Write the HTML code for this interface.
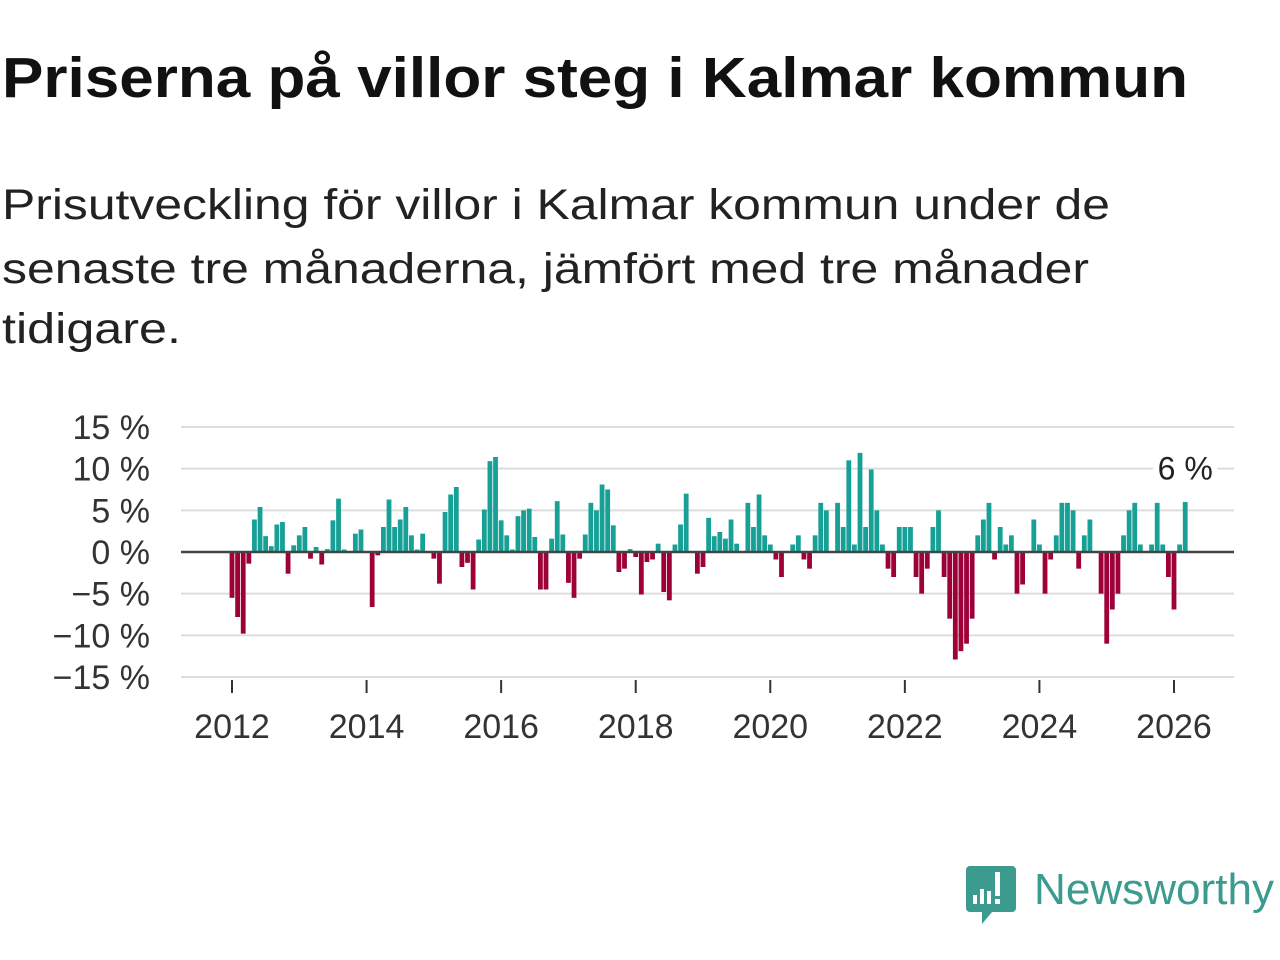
<!DOCTYPE html>
<html><head><meta charset="utf-8"><style>
html,body{margin:0;padding:0;background:#fff;width:1280px;height:960px;overflow:hidden}
svg text{font-family:"Liberation Sans",sans-serif}
</style></head><body>
<svg id="chart" width="1280" height="960" xmlns="http://www.w3.org/2000/svg">
<text x="2" y="97" font-size="57" font-weight="bold" fill="#111" textLength="1186" lengthAdjust="spacingAndGlyphs">Priserna på villor steg i Kalmar kommun</text>
<g font-size="43" fill="#222">
<text x="2" y="219" textLength="1108" lengthAdjust="spacingAndGlyphs">Prisutveckling för villor i Kalmar kommun under de</text>
<text x="2" y="283" textLength="1087" lengthAdjust="spacingAndGlyphs">senaste tre månaderna, jämfört med tre månader</text>
<text x="2" y="343" textLength="179" lengthAdjust="spacingAndGlyphs">tidigare.</text>
</g>
<g id="grid"></g>
<g id="bars"></g>
<g id="axes"></g>
<g>
<path d="M970 866 h42 a4 4 0 0 1 4 4 v38 a4 4 0 0 1 -4 4 h-20 l-10 12 v-12 h-12 a4 4 0 0 1 -4 -4 v-38 a4 4 0 0 1 4 -4z" fill="#3a9b8e"/>
<rect x="973" y="895" width="4" height="9" fill="#fff"/><rect x="980" y="889" width="4" height="15" fill="#fff"/><rect x="987" y="891" width="4" height="13" fill="#fff"/><rect x="995" y="872" width="5" height="24" fill="#fff"/><rect x="995" y="899" width="5" height="5" fill="#fff"/>
<text x="1034" y="904" font-size="44" fill="#3a9b8e" textLength="240" lengthAdjust="spacingAndGlyphs">Newsworthy</text>
</g>
</svg>
<script>
const years = [2012,2014,2016,2018,2020,2022,2024,2026];
const yTicks = [15,10,5,0,-5,-10,-15];
const yTickLabels = ["15 %","10 %","5 %","0 %","−5 %","−10 %","−15 %"];
const values = [-5.5,-7.8,-9.8,-1.4,3.9,5.4,1.9,0.7,3.3,3.6,-2.6,0.8,
2.0,3.0,-0.8,0.6,-1.5,0.35,3.8,6.4,0.3,0,2.2,2.7,
0,-6.6,-0.4,3.0,6.3,3.0,3.9,5.4,2.0,0.3,2.2,0,
-0.8,-3.8,4.8,6.9,7.8,-1.8,-1.3,-4.5,1.5,5.1,10.9,11.4,
3.8,2.0,0.3,4.3,5.0,5.2,1.8,-4.5,-4.5,1.6,6.1,2.1,
-3.7,-5.5,-0.8,2.1,5.9,5.0,8.1,7.5,3.2,-2.4,-2.0,0.35,
-0.6,-5.1,-1.2,-0.9,1.0,-4.8,-5.8,0.9,3.3,7.0,0,-2.6,
-1.8,4.1,1.9,2.4,1.6,3.9,1.0,0,5.9,3.0,6.9,2.0,
0.9,-0.9,-3.0,0,0.9,2.0,-0.9,-2.0,2.0,5.9,5.0,0,
5.9,3.0,11.0,0.9,11.9,3.0,9.9,5.0,0.9,-2.0,-3.0,3.0,
3.0,3.0,-3.0,-5.0,-2.0,3.0,5.0,-3.0,-8.0,-12.9,-11.9,-11.0,
-8.0,2.0,3.9,5.9,-0.9,3.0,0.9,2.0,-5.0,-3.9,0,3.9,
0.9,-5.0,-0.9,2.0,5.9,5.9,5.0,-2.0,2.0,3.9,0,-5.0,
-11.0,-6.9,-5.0,2.0,5.0,5.9,0.9,0,0.9,5.9,0.9,-3.0,
-6.9,0.9,6.0];
const lastLabel = "6 %";
const NS="http://www.w3.org/2000/svg";
const x0=181,x1=1234;
function xScale(m){return 232+m*(1174-232)/168;}
function yScale(v){return 552-v*(552-427)/15;}
function el(tag,attrs,parent){const e=document.createElementNS(NS,tag);for(const k in attrs)e.setAttribute(k,attrs[k]);parent.appendChild(e);return e;}
const grid=document.getElementById('grid'),bars=document.getElementById('bars'),axes=document.getElementById('axes');
yTicks.forEach((t,i)=>{
  if(t!==0){const l=el('line',{x1:x0,x2:x1,y1:yScale(t),y2:yScale(t),stroke:'#ddd','stroke-width':2},grid);
  
  }
  const tx=el('text',{x:150,y:yScale(t)+12,'text-anchor':'end','font-size':34,fill:'#333'},axes);
  tx.textContent=yTickLabels[i];
  
  
});
values.forEach((v,m)=>{
  const x=xScale(m);const y=yScale(Math.max(v,0));const h=Math.abs(yScale(v)-yScale(0));
  const r=el('rect',{x:x-2.4,y:y,width:4.8,height:Math.max(h,0.01),fill:v>=0?'#16a096':'#9e0038'},bars);
  
  
});
const z=el('line',{x1:x0,x2:x1,y1:yScale(0),y2:yScale(0),stroke:'#444','stroke-width':2.5},axes);


years.forEach(yr=>{
  const x=xScale((yr-2012)*12);
  const t=el('line',{x1:x,x2:x,y1:680,y2:693,stroke:'#333','stroke-width':2},axes);
  
  
  const tx=el('text',{x:x,y:738,'text-anchor':'middle','font-size':34,fill:'#333'},axes);
  tx.textContent=yr;
  
  
});
const lm=values.length-1;
el('rect',{x:xScale(lm)-32,y:yScale(10)-18,width:64,height:34,fill:'#fff'},axes);
const lab=el('text',{x:xScale(lm)-0,y:yScale(10)+11,'text-anchor':'middle','font-size':32,fill:'#222'},axes);
lab.textContent=lastLabel;


</script>
</body></html>
